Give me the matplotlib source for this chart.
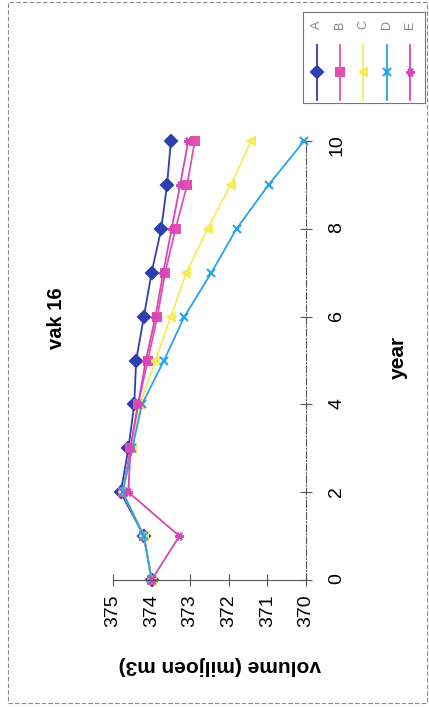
import matplotlib.pyplot as plt
from matplotlib.patches import Rectangle

plt.rcParams['font.family'] = ['Liberation Sans', 'DejaVu Sans']

# chart values (the picture is the Excel chart turned a quarter turn)
years = list(range(11))
series_names = ["A", "B", "C", "D", "E"]
vol_a = [374.0, 374.2, 374.8, 374.6, 374.45, 374.4, 374.2, 374.0, 373.75, 373.6, 373.5]
vol_b = [374.0, 374.2, 374.75, 374.55, 374.35, 374.1, 373.85, 373.65, 373.38, 373.08, 372.88]
vol_c = [374.0, 374.2, 374.75, 374.5, 374.3, 373.9, 373.5, 373.1, 372.55, 371.95, 371.42]
vol_d = [374.0, 374.2, 374.75, 374.5, 374.25, 373.68, 373.15, 372.45, 371.8, 370.97, 370.05]
vol_e = [374.0, 373.28, 374.6, 374.55, 374.35, 374.15, 373.9, 373.7, 373.48, 373.26, 373.05]
volume_ticks = [375, 374, 373, 372, 371, 370]
year_ticks = [0, 2, 4, 6, 8, 10]

all_vols = [vol_a, vol_b, vol_c, vol_d, vol_e]
colors = ["#2e3fae", "#e052b2", "#f4ec5c", "#27a2ec", "#d944b6"]
markers = ["D", "s", "<", "x", (6, 2, 90)]

W, H = 429, 707

def fx(px):
    return px / W

def fy(py):
    return 1 - py / H

fig = plt.figure(figsize=(W / 100, H / 100), dpi=100)

ax = fig.add_axes([fx(113), fy(580), (306 - 113) / W, (580 - 141) / H])
for vals, c, m in zip(all_vols, colors, markers):
    ax.plot(vals, years, color=c, marker=m, ms=6.2, mew=1.5, lw=1.3,
            mec=c, mfc=c, clip_on=False)

ax.set_xlim(375, 370)
ax.set_ylim(0, 10)
ax.set_xticks(volume_ticks)
ax.set_xticklabels([str(v) for v in volume_ticks])
ax.set_yticks(year_ticks)
ax.set_yticklabels([str(y) for y in year_ticks])
ax.yaxis.tick_right()
for s in ["top", "left"]:
    ax.spines[s].set_visible(False)
ax.spines["bottom"].set_color("#555555")
ax.spines["right"].set_color("#555555")
ax.spines["right"].set_linestyle((0, (6, 2, 1, 2)))
ax.tick_params(axis="x", direction="inout", length=8, color="#555555",
               labelrotation=90, labelsize=14, pad=6)
ax.tick_params(axis="y", direction="inout", length=8, color="#555555",
               labelrotation=90, labelsize=14, pad=12)

fig.text(fx(57), fy(318), "vak 16", rotation=90, ha="center", va="center",
         fontsize=14.5, fontweight="bold")
fig.text(fx(220), fy(666), "volume (miljoen m3)", rotation=180, ha="center",
         va="center", fontsize=15, fontweight="bold")
fig.text(fx(398), fy(357), "year", rotation=90, ha="center", va="center",
         fontsize=15, fontweight="bold")

# legend, turned like the rest
lax = fig.add_axes([fx(303), fy(103), (425 - 303) / W, (103 - 12) / H])
lax.set_xlim(0, 1)
lax.set_ylim(0, 1)
lax.set_xticks([])
lax.set_yticks([])
for s in lax.spines.values():
    s.set_color("#777777")
for i, (name, c, m) in enumerate(zip(series_names, colors, markers)):
    x = 0.115 + i * 0.19
    lax.plot([x, x], [0.03, 0.64], color=c, lw=1.3)
    lax.plot([x], [0.34], color=c, marker=m, ms=6.2, mew=1.5, mec=c, mfc=c)
    lax.text(x, 0.86, name, rotation=90, ha="center", va="center",
             fontsize=9, color="#888888")

fig.patches.append(Rectangle((fx(8), fy(703)), fx(427) - fx(8), fy(2) - fy(703),
                             transform=fig.transFigure, fill=False,
                             edgecolor="#888888", lw=0.8, ls=(0, (4, 2))))

fig.savefig("out.png", dpi=100)
